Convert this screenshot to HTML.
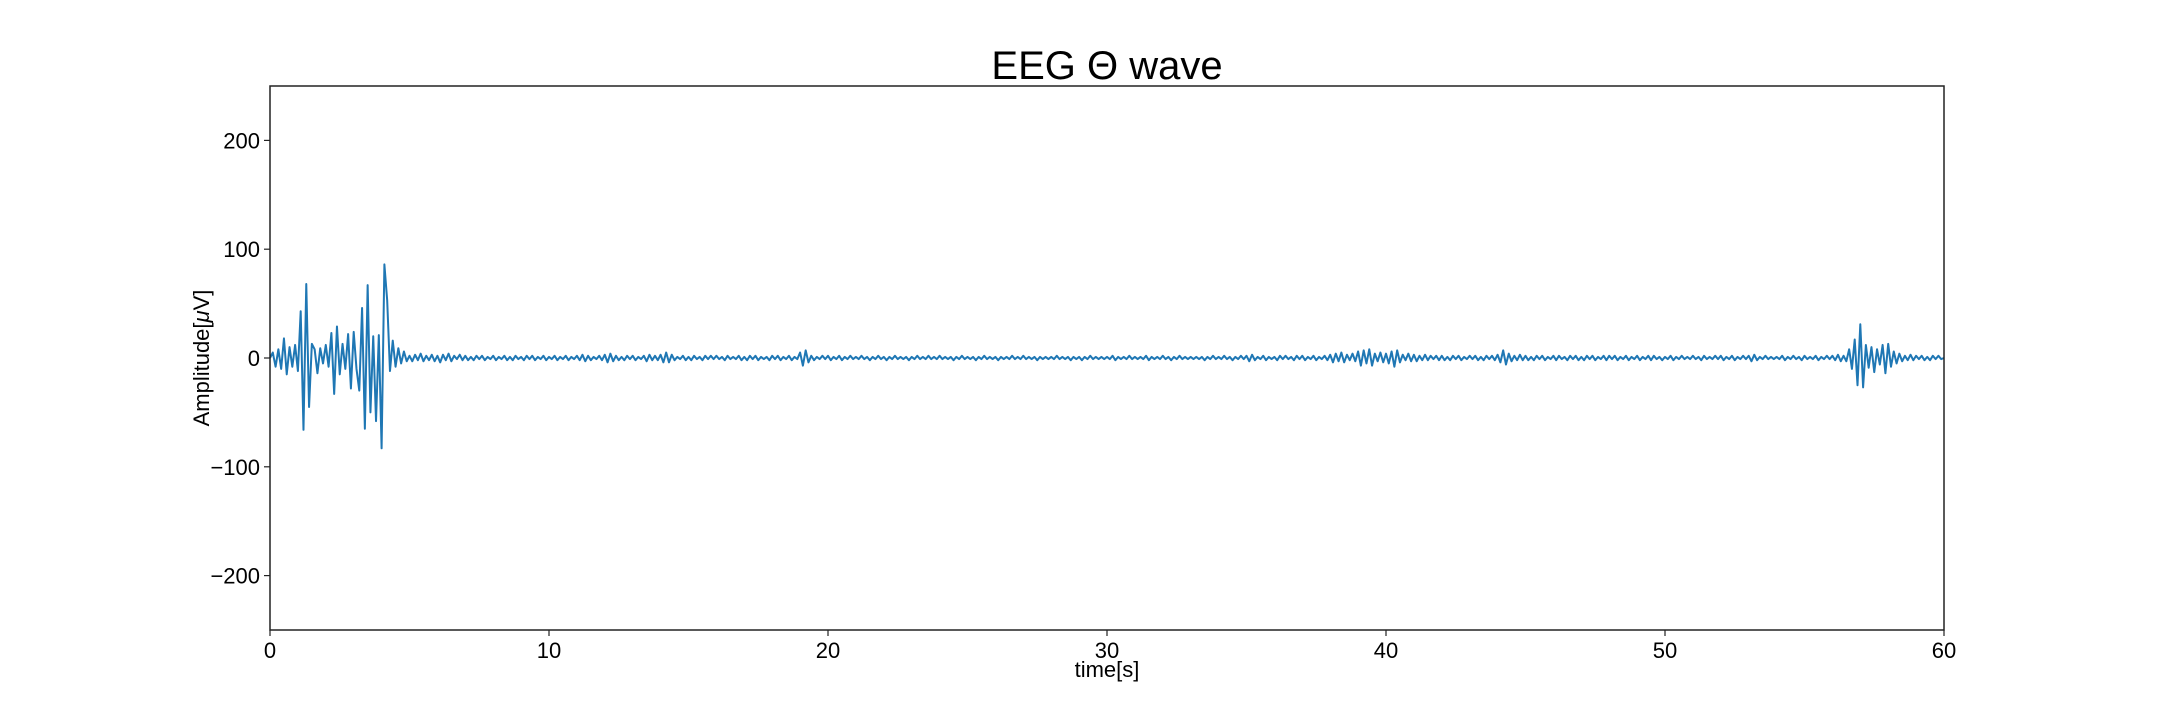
<!DOCTYPE html>
<html><head><meta charset="utf-8"><style>
html,body{margin:0;padding:0;background:#fff;}
svg text{font-family:"Liberation Sans",sans-serif;fill:#000;}
</style></head><body>
<svg id="chart" width="2160" height="720" xmlns="http://www.w3.org/2000/svg">
<text x="1107" y="79" font-size="40" text-anchor="middle">EEG Θ wave</text>
<g id="plot"></g>
<rect x="270" y="86" width="1674" height="544" fill="none" stroke="#222" stroke-width="1.5"/>
<text x="1107" y="677" font-size="22" text-anchor="middle">time[s]</text>
<text transform="translate(209,358) rotate(-90)" font-size="22" text-anchor="middle">Amplitude[<tspan font-style="italic">μ</tspan>V]</text>
</svg>
<script>
const xTicks=[0,10,20,30,40,50,60];
const yTicks=[-200,-100,0,100,200];
const yTickLabels=["−200","−100","0","100","200"];
const sampleStep=0.1;
const burst0=[0,5,-8,8,-10,18,-15,10,-8,12,-12,43,-66,68,-45,13,8,-14,9,-5,12,-8,23,-33,29,-15,13,-10,22,-28,24,-10,-30,46,-65,67,-50,20,-58,21,-83,86,53,-12,16,-8,9,-5,6,-3];
const rest=[
2,-3,3,-2,4,-3,2,-2,3,-3, 2,-4,3,-2,4,-3,2,-1,3,-2, 2,-2,1,-2,2,-1,2,-2,1,-1, 2,-2,1,-1,2,-2,1,-2,2,-1, 1,-2,2,-1,2,-2,1,-1,2,-2,
1,-1,2,-2,1,-1,2,-2,1,-1, 2,-2,3,-3,2,-2,1,-1,2,-2, 3,-4,4,-3,2,-2,1,-2,2,-1, 2,-2,1,-1,2,-3,3,-2,2,-2, 3,-4,5,-4,3,-2,1,-1,2,-2,
1,-2,2,-1,1,-2,2,-1,2,-1, 2,-1,1,-2,2,-1,1,-1,2,-2, 1,-2,2,-1,2,-2,1,-1,1,-2, 2,-1,2,-2,1,-1,2,-2,1,-1, 5,-7,7,-4,2,-2,1,-1,2,-1,
2,-2,1,-1,2,-2,1,-1,2,-1, 1,-1,2,-1,1,-2,1,-1,2,-1, 1,-2,1,-1,2,-1,1,-1,1,-2, 1,-1,2,-1,1,-1,2,-1,1,-1, 2,-1,1,-1,1,-2,1,-1,2,-1,
1,-1,1,-2,1,-1,2,-1,1,-1, 1,-2,1,-1,1,-1,2,-1,1,-1, 2,-1,1,-1,1,-2,1,-1,1,-1, 1,-1,2,-1,1,-1,1,-2,1,-1, 1,-2,1,-1,2,-1,1,-1,1,-1,
1,-1,2,-2,1,-1,1,-1,2,-1, 1,-1,1,-1,2,-2,1,-1,1,-1, 2,-1,1,-2,1,-1,2,-1,1,-1, 1,-1,1,-1,1,-2,1,-1,2,-1, 1,-1,2,-1,1,-2,1,-1,2,-1,
2,-3,3,-2,1,-1,2,-2,1,-1, 1,-2,2,-1,2,-1,1,-2,2,-1, 2,-2,1,-1,2,-2,1,-1,2,-2, 3,-4,4,-3,5,-4,3,-2,4,-3, 6,-7,7,-5,8,-7,4,-3,5,-4,
4,-5,6,-8,7,-4,3,-2,4,-3, 3,-3,2,-2,3,-2,2,-1,2,-2, 2,-2,1,-2,2,-1,2,-2,1,-1, 2,-1,2,-2,1,-2,2,-1,2,-2, 3,-4,7,-6,4,-3,2,-2,3,-2,
2,-2,1,-2,2,-1,2,-2,1,-1, 2,-2,2,-1,1,-2,2,-1,2,-2, 1,-2,2,-1,2,-2,1,-1,2,-2, 2,-1,2,-2,1,-1,2,-2,1,-1, 2,-2,1,-1,2,-2,2,-1,1,-2,
1,-1,2,-2,1,-1,2,-1,1,-1, 2,-1,1,-2,2,-1,1,-1,2,-1, 2,-2,1,-1,2,-2,1,-1,2,-1, 2,-3,3,-2,1,-1,2,-1,1,-1, 1,-1,2,-2,1,-1,2,-1,1,-2,
2,-1,1,-1,2,-2,1,-1,2,-1, 2,-2,3,-3,2,-3,8,-10,17,-25, 31,-27,12,-9,10,-13,8,-6,12,-14, 13,-8,6,-5,4,-3,2,-2,3,-2, 2,-1,2,-2,1,-2,2,-1,2,-1, 0];
const amplitude=burst0.concat(rest);

const X0=270,X1=1944,Y0=630,Y1=86;
const xScale=v=>X0+(v-0)/(60-0)*(X1-X0);
const yScale=v=>Y0-(v-(-250))/(500)*(Y0-Y1);
const NS="http://www.w3.org/2000/svg";
const svg=document.getElementById('chart');
const plot=document.getElementById('plot');

let d="";
amplitude.forEach((v,i)=>{d+=(i?"L":"M")+xScale(i*sampleStep).toFixed(2)+","+yScale(v).toFixed(2);});
const line=document.createElementNS(NS,'path');


line.setAttribute('d',d);
line.setAttribute('fill','none');
line.setAttribute('stroke','#1f77b4');
line.setAttribute('stroke-width','2');
line.setAttribute('stroke-linejoin','round');
plot.appendChild(line);

xTicks.forEach(t=>{
  const x=xScale(t);
  const tk=document.createElementNS(NS,'line');
  
  
  tk.setAttribute('x1',x);tk.setAttribute('x2',x);tk.setAttribute('y1',Y0);tk.setAttribute('y2',Y0+6);
  tk.setAttribute('stroke','#222');tk.setAttribute('stroke-width','1.2');
  svg.appendChild(tk);
  const tx=document.createElementNS(NS,'text');
  
  
  tx.setAttribute('x',x);tx.setAttribute('y',Y0+28);
  tx.setAttribute('font-size','22');tx.setAttribute('text-anchor','middle');
  tx.textContent=String(t);
  svg.appendChild(tx);
});
yTicks.forEach((t,i)=>{
  const y=yScale(t);
  const tk=document.createElementNS(NS,'line');
  
  
  tk.setAttribute('x1',X0-6);tk.setAttribute('x2',X0);tk.setAttribute('y1',y);tk.setAttribute('y2',y);
  tk.setAttribute('stroke','#222');tk.setAttribute('stroke-width','1.2');
  svg.appendChild(tk);
  const tx=document.createElementNS(NS,'text');
  
  
  tx.setAttribute('x',X0-10);tx.setAttribute('y',y+8);
  tx.setAttribute('font-size','22');tx.setAttribute('text-anchor','end');
  tx.textContent=yTickLabels[i];
  svg.appendChild(tx);
});
</script>
</body></html>
